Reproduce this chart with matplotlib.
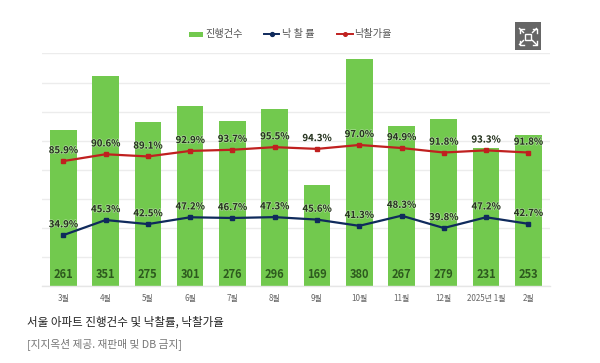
import matplotlib
matplotlib.use("Agg")
import matplotlib.pyplot as plt
import matplotlib.patheffects as pe
from matplotlib.patches import Rectangle
from matplotlib.lines import Line2D

plt.rcParams['font.family'] = ['Noto Sans CJK KR', 'DejaVu Sans']

months = ['3월', '4월', '5월', '6월', '7월', '8월', '9월', '10월', '11월', '12월', '2025년 1월', '2월']
cases = [261, 351, 275, 301, 276, 296, 169, 380, 267, 279, 231, 253]
win_rate = [34.9, 45.3, 42.5, 47.2, 46.7, 47.3, 45.6, 41.3, 48.3, 39.8, 47.2, 42.7]
price_rate = [85.9, 90.6, 89.1, 92.9, 93.7, 95.5, 94.3, 97.0, 94.9, 91.8, 93.3, 91.8]
pct_ticks = [0, 20, 40, 60, 80, 100, 120, 140, 160]

W, H = 600, 363
GREEN, NAVY, RED = '#72c94e', '#0f2a5c', '#c0201f'
fig = plt.figure(figsize=(W / 100, H / 100), dpi=100, facecolor='white')
L, R, T, B = 42.2, 549.5, 53.5, 285.8
ax = fig.add_axes([L / W, 1 - B / H, (R - L) / W, (B - T) / H])
ax.set_xlim(-0.5, 11.5)
ax.set_ylim(0, 389)
for s in ['top', 'right', 'left']:
    ax.spines[s].set_visible(False)
ax.spines['bottom'].set_color('#e6e6e6')
ax.spines['bottom'].set_linewidth(1)

ax2 = ax.twinx()
ax2.set_ylim(0, 160)
ax2.set_yticks(pct_ticks)
ax2.tick_params(left=False, right=False, labelleft=False, labelright=False)
for s in ax2.spines.values():
    s.set_visible(False)
ax2.grid(axis='y', color='#ececec', linewidth=1)
ax2.set_axisbelow(True)
ax2.set_zorder(1)
ax.set_zorder(2)
ax.patch.set_visible(False)
ax2.patch.set_facecolor('white')

x = list(range(len(months)))
ax.bar(x, cases, width=0.63, color=GREEN, linewidth=0)
ax.set_xticks(x, months)
ax.set_yticks([])
ax.tick_params(axis='x', length=0, pad=6, labelsize=5.8, labelcolor='#666666')
for xi, v in zip(x, cases):
    ax.annotate(str(v), (xi, 0), xytext=(0, 3.2), textcoords='offset points', ha='center', va='bottom',
                fontsize=8, fontweight='bold', color='#2d5a1e')

ax3 = ax.twinx()
ax3.set_ylim(0, 160)
ax3.axis('off')
ax3.set_zorder(3)
ax3.plot(x, win_rate, color=NAVY, lw=1.6, marker='s', ms=2.8)
ax3.plot(x, price_rate, color=RED, lw=1.6, marker='s', ms=2.6)
halo = [pe.withStroke(linewidth=1.0, foreground='white', alpha=0.4)]
for series in (win_rate, price_rate):
    for xi, v in zip(x, series):
        ax3.annotate(f'{v:.1f}%', (xi, v), xytext=(0, 4.2), textcoords='offset points', ha='center', va='bottom',
                     fontsize=6.9, fontweight='bold', color='#26331f', path_effects=halo)


def px(xp, yp):
    return xp / W, 1 - yp / H


def rect(x0, y0, x1, y1, **kw):
    fig.add_artist(Rectangle(px(x0, y1), (x1 - x0) / W, (y1 - y0) / H, transform=fig.transFigure, **kw))


def line(xs, ys, **kw):
    fig.add_artist(Line2D([v / W for v in xs], [1 - v / H for v in ys], transform=fig.transFigure, **kw))


# legend
rect(189, 31.5, 203, 37, fc=GREEN, lw=0)
fig.text(*px(205, 33.5), '진행건수', fontsize=7.3, color='#555555', va='center', ha='left')
line([264, 279], [33.8, 33.8], color=NAVY, lw=1.4)
line([271.5], [33.8], color=NAVY, marker='o', ms=2.8)
fig.text(*px(282, 33.5), '낙 찰 률', fontsize=7.3, color='#555555', va='center', ha='left')
line([337, 353], [33.8, 33.8], color=RED, lw=1.4)
line([345], [33.8], color=RED, marker='o', ms=2.6)
fig.text(*px(354, 33.5), '낙찰가율', fontsize=7.3, color='#555555', va='center', ha='left')

# expand icon
rect(515, 22.5, 541, 50, fc='#666666', lw=0)
rect(525, 33.5, 531, 39.5, fc='none', ec='white', lw=1)
for (x0, y0, dx, dy) in [(519.5, 28.5, 1, 1), (536.5, 28.5, -1, 1), (519.5, 44.5, 1, -1), (536.5, 44.5, -1, -1)]:
    line([x0 + 4 * dx, x0, x0], [y0, y0, y0 + 4 * dy], color='white', lw=1)
    line([x0, x0 + 4 * dx], [y0, y0 + 4 * dy], color='white', lw=1)

# caption
fig.text(*px(27.5, 322.5), '서울 아파트 진행건수 및 낙찰률, 낙찰가율', fontsize=8.3, fontweight='medium', color='#222222', va='center', ha='left')
fig.text(*px(27.5, 344), '[지지옥션 제공. 재판매 및 DB 금지]', fontsize=7.7, color='#777777', va='center', ha='left')

fig.savefig('out.png', dpi=100, facecolor='white')
